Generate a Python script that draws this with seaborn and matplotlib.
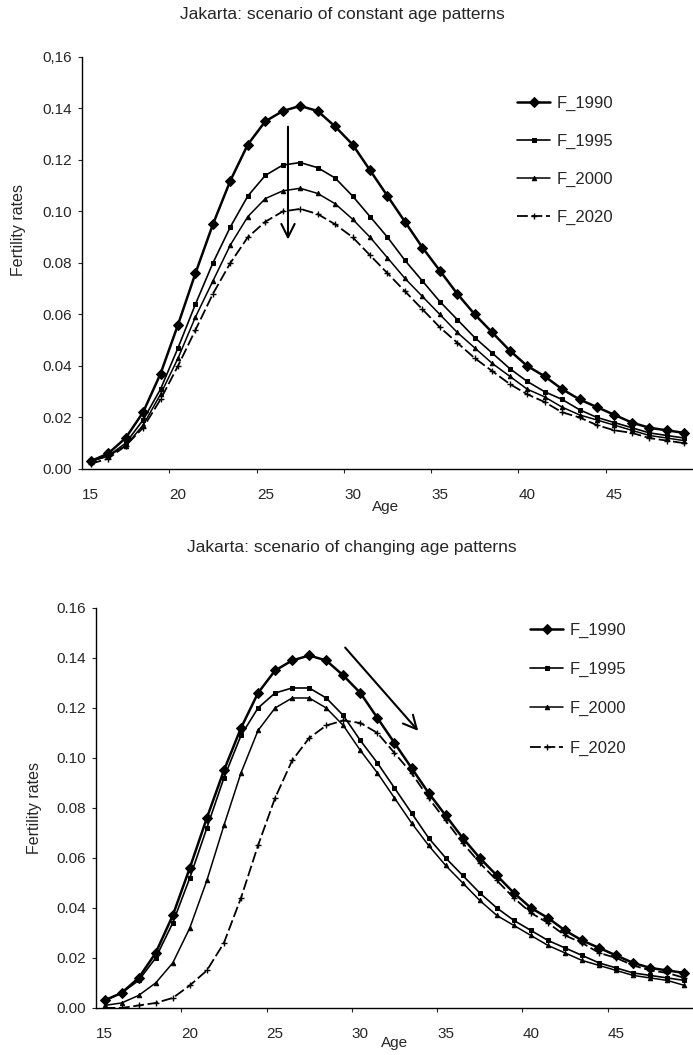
import numpy as np
import matplotlib
matplotlib.use("Agg")
import matplotlib.pyplot as plt
import pandas as pd
import seaborn as sns

# Age groups (single years 15-49)
ages = list(range(15, 50))

# Constant age pattern scenario
const_1990 = [0.003, 0.006, 0.012, 0.022, 0.037, 0.056, 0.076, 0.095, 0.112, 0.126, 0.135, 0.139, 0.141,
              0.139, 0.133, 0.126, 0.116, 0.106, 0.096, 0.086, 0.077, 0.068, 0.060, 0.053, 0.046, 0.040,
              0.036, 0.031, 0.027, 0.024, 0.021, 0.018, 0.016, 0.015, 0.014]
const_1995 = [0.003, 0.005, 0.010, 0.019, 0.031, 0.047, 0.064, 0.080, 0.094, 0.106, 0.114, 0.118, 0.119,
              0.117, 0.113, 0.106, 0.098, 0.090, 0.081, 0.073, 0.065, 0.058, 0.051, 0.045, 0.039, 0.034,
              0.030, 0.027, 0.023, 0.020, 0.018, 0.016, 0.014, 0.013, 0.012]
const_2000 = [0.003, 0.005, 0.009, 0.017, 0.029, 0.043, 0.059, 0.073, 0.087, 0.098, 0.105, 0.108, 0.109,
              0.107, 0.103, 0.097, 0.090, 0.082, 0.074, 0.067, 0.060, 0.053, 0.047, 0.041, 0.036, 0.031,
              0.028, 0.024, 0.021, 0.019, 0.017, 0.015, 0.013, 0.012, 0.011]
const_2020 = [0.002, 0.004, 0.009, 0.016, 0.027, 0.040, 0.054, 0.068, 0.080, 0.090, 0.096, 0.100, 0.101,
              0.099, 0.095, 0.090, 0.083, 0.076, 0.069, 0.062, 0.055, 0.049, 0.043, 0.038, 0.033, 0.029,
              0.026, 0.022, 0.020, 0.017, 0.015, 0.014, 0.012, 0.011, 0.010]

# Changing age pattern scenario
chg_1990 = const_1990
chg_1995 = [0.003, 0.006, 0.011, 0.020, 0.034, 0.052, 0.072, 0.092, 0.109, 0.120, 0.126, 0.128, 0.128,
            0.124, 0.117, 0.107, 0.098, 0.088, 0.078, 0.068, 0.060, 0.053, 0.046, 0.040, 0.035, 0.031,
            0.027, 0.024, 0.021, 0.018, 0.016, 0.014, 0.013, 0.012, 0.011]
chg_2000 = [0.001, 0.002, 0.005, 0.010, 0.018, 0.032, 0.051, 0.073, 0.094, 0.111, 0.120, 0.124, 0.124,
            0.120, 0.113, 0.103, 0.094, 0.084, 0.074, 0.065, 0.057, 0.050, 0.043, 0.037, 0.033, 0.029,
            0.025, 0.022, 0.019, 0.017, 0.015, 0.013, 0.012, 0.011, 0.009]
chg_2020 = [0.000, 0.000, 0.001, 0.002, 0.004, 0.009, 0.015, 0.026, 0.044, 0.065, 0.084, 0.099, 0.108,
            0.113, 0.115, 0.114, 0.110, 0.102, 0.094, 0.084, 0.075, 0.066, 0.058, 0.051, 0.044, 0.038,
            0.034, 0.029, 0.026, 0.022, 0.020, 0.017, 0.015, 0.014, 0.012]

series = ["F_1990", "F_1995", "F_2000", "F_2020"]
y_ticks = [0.00, 0.02, 0.04, 0.06, 0.08, 0.10, 0.12, 0.14, 0.16]
top_ytick_labels = ["0.00", "0.02", "0.04", "0.06", "0.08", "0.10", "0.12", "0.14", "0,16"]
bottom_ytick_labels = ["0.00", "0.02", "0.04", "0.06", "0.08", "0.10", "0.12", "0.14", "0.16"]
x_labels = [15, 20, 25, 30, 35, 40, 45]

# arrows drawn on the charts (data coordinates)
top_arrow = ((26.3, 0.134), (26.3, 0.088))
bottom_arrow = ((29.0, 0.145), (33.5, 0.110))

# line style per series
styles = {
    "F_1990": dict(marker="D", markersize=5, linewidth=1.8),
    "F_1995": dict(marker="s", markersize=3.2, linewidth=1.2),
    "F_2000": dict(marker="^", markersize=3.2, linewidth=1.1),
    "F_2020": dict(marker="+", markersize=4.5, linewidth=1.3, markeredgewidth=1.0, dashes=(6, 2)),
}

sns.set_theme(style="ticks")
plt.rcParams["font.family"] = ["Liberation Sans", "DejaVu Sans"]

fig = plt.figure(figsize=(6.93, 10.55), dpi=100)
ax_top = fig.add_axes([0.1183, 0.5555, 0.8817, 0.3905])
ax_bot = fig.add_axes([0.1385, 0.0446, 0.8615, 0.3791])

panels = [
    (ax_top, [const_1990, const_1995, const_2000, const_2020], top_ytick_labels, top_arrow,
     (0.746, 0.9095), 1.38, (0.496, -0.075), (-0.092, 0.58)),
    (ax_bot, [chg_1990, chg_1995, chg_2000, chg_2020], bottom_ytick_labels, bottom_arrow,
     (0.765, 0.410), 1.45, (0.50, -0.07), (-0.09, 0.5)),
]

for ax, values, ylabels, arrow, leg_pos, leg_space, xlab_pos, ylab_pos in panels:
    for name, vals in zip(series, values):
        df = pd.DataFrame({"Age": ages, "rate": vals})
        sns.lineplot(data=df, x="Age", y="rate", color="black", label=name,
                     markeredgecolor="black", ax=ax, **styles[name])

    ax.set_xlim(14.5, 49.5)
    ax.set_ylim(0, 0.16)
    ax.set_yticks(y_ticks)
    ax.set_yticklabels(ylabels, fontsize=11)
    # tick marks between categories, labels at category centres
    ax.set_xticks([x - 0.5 for x in x_labels[1:]])
    ax.set_xticklabels([])
    ax.set_xticks(x_labels, minor=True)
    ax.set_xticklabels([str(x) for x in x_labels], minor=True, fontsize=11)
    ax.tick_params(axis="x", which="minor", length=0, pad=13.5)
    ax.tick_params(axis="x", which="major", length=3, width=0.8, direction="out")
    ax.tick_params(axis="y", length=3, width=0.8, direction="out", pad=4.5)
    sns.despine(ax=ax)
    for sp in ["left", "bottom"]:
        ax.spines[sp].set_linewidth(1.0)
        ax.spines[sp].set_color("black")

    ax.set_xlabel("Age", fontsize=11)
    ax.xaxis.set_label_coords(*xlab_pos)
    ax.set_ylabel("Fertility rates", fontsize=11.5)
    ax.yaxis.set_label_coords(*ylab_pos)

    ax.annotate("", xy=arrow[1], xytext=arrow[0],
                arrowprops=dict(arrowstyle="->", lw=1.5, color="black", mutation_scale=24))

    handles, labels = ax.get_legend_handles_labels()
    ax.legend(handles, labels, loc="upper left", bbox_to_anchor=leg_pos,
              bbox_transform=fig.transFigure, frameon=False, fontsize=12,
              handlelength=2.0, handletextpad=0.35, labelspacing=leg_space,
              borderpad=0, borderaxespad=0)

fig.text(0.494, 0.986, "Jakarta: scenario of constant age patterns", ha="center", va="center", fontsize=12.5)
fig.text(0.507, 0.481, "Jakarta: scenario of changing age patterns", ha="center", va="center", fontsize=12.5)

fig.savefig("out.png", dpi=100)
